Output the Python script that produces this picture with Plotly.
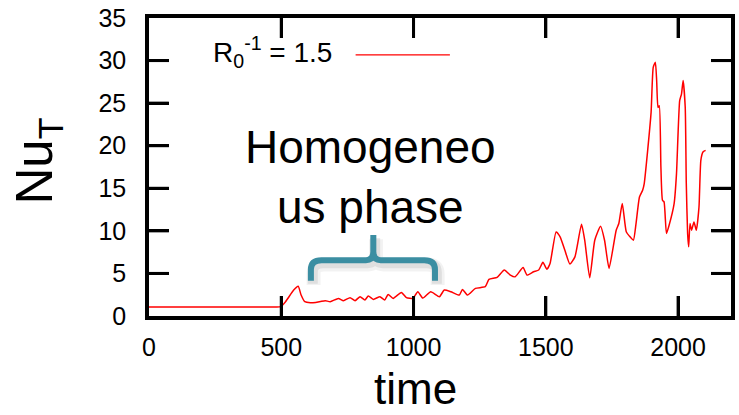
import plotly.graph_objects as go

# Thermal Nusselt number time series, R0^-1 = 1.5
time = [0, 100, 200, 300, 400, 480, 498, 516, 547, 564, 575, 589, 610, 630, 648,
        666, 685, 716, 735, 760, 779, 798, 816, 829, 848, 873, 891, 904, 923, 954,
        973, 998, 1016, 1035, 1065, 1098, 1116, 1141, 1173, 1185, 1204, 1234, 1271,
        1285, 1316, 1343, 1366, 1384, 1414, 1429, 1454, 1473, 1489, 1504, 1516, 1539,
        1554, 1572, 1591, 1610, 1635, 1647, 1666, 1685, 1707, 1722, 1739, 1766, 1776,
        1789, 1804, 1816, 1831, 1841, 1854, 1866, 1872, 1885, 1898, 1906, 1914, 1919,
        1924, 1929, 1935, 1941, 1947, 1956, 1966, 1985, 1994, 2006, 2013, 2019, 2027,
        2031, 2036, 2040, 2045, 2051, 2060, 2069, 2079, 2086, 2094, 2104]
nu_t = [1.05, 1.05, 1.05, 1.05, 1.05, 1.06, 1.1, 1.68, 3.05, 3.5, 2.46, 1.68, 1.56, 1.6, 1.7,
        1.80, 1.68, 2.07, 1.80, 2.15, 1.80, 2.27, 1.88, 2.34, 1.95, 2.27, 1.88, 2.54, 2.07, 2.77,
        2.15, 2.07, 2.85, 2.1, 2.85, 2.27, 3.05, 2.85, 2.46, 3.12, 2.46, 3.24, 3.44,
        4.3, 4.53, 5.39, 4.8, 4.6, 5.7, 4.8, 5.2, 5.4, 6.3, 5.5, 6.17, 9.88,
        9.3, 7.73, 6.1, 6.95, 10.78, 8.9, 4.49, 8.9, 10.55, 8.9, 5.59, 10.08, 10.86,
        13.2, 9.9, 9.38, 8.9, 10.86, 13.98, 14.77, 15.55, 19.45, 23.94, 29.2, 29.8, 27.66,
        24.5, 24.7, 17.5, 13.6, 13.4, 9.69, 10.66, 13.2, 16.72, 25.3, 26.1, 27.66, 24.5,
        15.55, 9.69, 8.12, 10.86, 10.08, 11.05, 10.08, 12.8, 18.28, 19.26, 19.45]

x_ticks = [0, 500, 1000, 1500, 2000]
y_ticks = [0, 5, 10, 15, 20, 25, 30, 35]
x_range = [0, 2200]
y_range = [0, 35]

# extent of the homogeneous phase marked by the brace
phase_start, phase_mid, phase_end = 612, 848, 1081

FONT = "Liberation Sans, Arial, Helvetica, sans-serif"
TEAL = "#3b8ea2"
W, H = 739, 415
MARGIN = dict(l=149, r=4, t=18, b=99)
TICK_LEN_PX = 20

plot_w = W - MARGIN["l"] - MARGIN["r"]
plot_h = H - MARGIN["t"] - MARGIN["b"]
# tick length expressed in data units of each axis
x_tick_len = TICK_LEN_PX * (x_range[1] - x_range[0]) / plot_w
y_tick_len = TICK_LEN_PX * (y_range[1] - y_range[0]) / plot_h

fig = go.Figure()
fig.add_trace(go.Scatter(x=time, y=nu_t, mode="lines",
                         line=dict(color="#ff0000", width=1.5, shape="spline", smoothing=0.5),
                         showlegend=False))

# inward tick marks on all four sides of the frame
tick_x, tick_y = [], []
for xv in x_ticks[1:]:
    tick_x += [xv, xv, None, xv, xv, None]
    tick_y += [y_range[0], y_range[0] + y_tick_len, None,
               y_range[1], y_range[1] - y_tick_len, None]
for yv in y_ticks[1:-1]:
    tick_x += [x_range[0], x_range[0] + x_tick_len, None,
               x_range[1], x_range[1] - x_tick_len, None]
    tick_y += [yv, yv, None, yv, yv, None]
fig.add_trace(go.Scatter(x=tick_x, y=tick_y, mode="lines", connectgaps=False,
                         line=dict(color="black", width=3),
                         hoverinfo="skip", showlegend=False))

fig.update_layout(font=dict(family=FONT, color="black"))
fig.update_xaxes(range=x_range, tickvals=x_ticks,
                 ticks="inside", ticklen=TICK_LEN_PX, tickwidth=3, tickcolor="black",
                 showline=True, linecolor="black", linewidth=3.5, mirror="ticks",
                 showgrid=False, zeroline=False, tickfont_size=25, ticklabelstandoff=6)
fig.update_yaxes(range=y_range, tickvals=y_ticks,
                 ticks="inside", ticklen=TICK_LEN_PX, tickwidth=3, tickcolor="black",
                 showline=True, linecolor="black", linewidth=3.5, mirror="ticks",
                 showgrid=False, zeroline=False, tickfont_size=25, ticklabelstandoff=14)


def brace_path(x0, xm, x1, y_base, y_bar, y_tip, rx, ry, tx, ty):
    return (f"M {x0},{y_base} L {x0},{y_bar - ry} Q {x0},{y_bar} {x0 + rx},{y_bar} "
            f"L {xm - tx},{y_bar} Q {xm},{y_bar} {xm},{y_bar + ty} L {xm},{y_tip} "
            f"L {xm},{y_bar + ty} Q {xm},{y_bar} {xm + tx},{y_bar} "
            f"L {x1 - rx},{y_bar} Q {x1},{y_bar} {x1},{y_bar - ry} L {x1},{y_base}")


# soft shadow under the brace
for dx, dy, w, a in [(10, -0.5, 14, 0.05), (7, -0.35, 10, 0.08)]:
    fig.add_shape(type="path", xref="x", yref="y",
                  path=brace_path(phase_start + dx, phase_mid + dx, phase_end + dx,
                                  4.14 + dy, 6.56 + dy, 9.5 + dy, 40, 1.1, 28, 1.0),
                  line=dict(color=f"rgba(0,0,0,{a})", width=w))
fig.add_shape(type="path", xref="x", yref="y",
              path=brace_path(phase_start, phase_mid, phase_end, 4.14, 6.56, 9.5, 40, 1.1, 28, 1.0),
              line=dict(color=TEAL, width=6))

# legend sample line
fig.add_shape(type="line", xref="paper", yref="paper", x0=0.355, x1=0.517, y0=0.876, y1=0.876,
              line=dict(color="#ff0000", width=1.2))

fig.add_annotation(xref="paper", yref="paper", x=0.318, y=0.886, xanchor="right", yanchor="middle",
                   text="R<sub>0</sub><sup>-1</sup> = 1.5", showarrow=False, font_size=28)
fig.add_annotation(xref="paper", yref="paper", x=0.38, y=0.466, xanchor="center", yanchor="middle",
                   text="Homogeneo<br>us phase", showarrow=False, font_size=46)
fig.add_annotation(xref="paper", yref="paper", x=0.458, y=-0.244, xanchor="center", yanchor="middle",
                   text="time", showarrow=False, font_size=44)
fig.add_annotation(xref="paper", yref="paper", x=-0.19, y=0.52, xanchor="center", yanchor="middle",
                   text="Nu<sub>T</sub>", textangle=-90, showarrow=False, font_size=51)

fig.update_layout(width=W, height=H, margin=MARGIN,
                  paper_bgcolor="white", plot_bgcolor="white")

fig.write_html("out.html")
